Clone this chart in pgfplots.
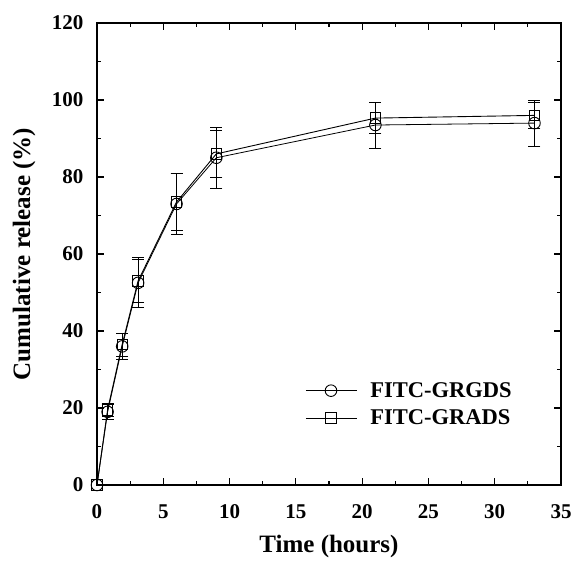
\documentclass[border=0pt]{standalone}
\usepackage{fontspec}
\setmainfont{Liberation Serif}
\usepackage{pgfplots}
\pgfplotsset{compat=1.18}
\begin{document}
\begin{tikzpicture}
\begin{axis}[
  scale only axis,
  width=464pt, height=462pt,
  xmin=0, xmax=35, ymin=0, ymax=120,
  xtick={0,5,...,35}, ytick={0,20,...,120},
  minor x tick num=1, minor y tick num=1,
  tick align=inside,
  major tick length=7pt, minor tick length=4pt,
  every tick/.style={black, line width=1.1pt},
  axis line style={line width=2.4pt},
  /pgf/number format/assume math mode=true,
  tick label style={font=\fontsize{21}{25}\selectfont\bfseries},
  xticklabel style={yshift=-16pt},
  yticklabel style={xshift=-10pt},
  label style={font=\fontsize{25}{30}\selectfont\bfseries},
  xlabel={Time (hours)},
  ylabel={Cumulative release (\%)},
  xlabel style={at={(axis description cs:0.5,-0.134)}, anchor=center},
  ylabel style={at={(axis description cs:-0.157,0.5)}, anchor=center},
  legend style={draw=none, fill=none, font=\fontsize{22.5}{26}\selectfont\bfseries,
    at={(axis description cs:0.449,0.231)}, anchor=north west, row sep=7pt,
    legend cell align=left, inner xsep=0pt},
  legend image code/.code={
    \draw[mark repeat=2,mark phase=2,#1] plot coordinates {(0pt,0pt) (25pt,0pt) (51pt,0pt)};
    \path (62pt,0pt);
  },
]
\addplot[black, line width=0.8pt, mark=o, mark size=5.8pt,
  mark options={solid, line width=0.9pt, fill=none},
  error bars/.cd, y dir=both, y explicit,
  error bar style={line width=0.8pt},
  error mark options={rotate=90, mark size=6pt, line width=0.8pt}]
  coordinates {
  (0,0) +- (0,0)
  (0.8,19.0) +- (0,2)
  (1.9,36) +- (0,3.5)
  (3.1,52.5) +- (0,6.5)
  (6,73) +- (0,8)
  (9,85) +- (0,8)
  (21,93.5) +- (0,6)
  (33,94) +- (0,6)
};
\addlegendentry{FITC-GRGDS}
\addplot[black, line width=0.9pt, mark=square, mark size=5.2pt,
  mark options={solid, line width=0.9pt, fill=none},
  error bars/.cd, y dir=both, y explicit,
  error bar style={line width=0.8pt},
  error mark options={rotate=90, mark size=6pt, line width=0.8pt}]
  coordinates {
  (0,0) +- (0,0)
  (0.8,19.5) +- (0,1.8)
  (1.9,36.5) +- (0,3)
  (3.1,53) +- (0,5.5)
  (6,73.5) +- (0,7.5)
  (9,86) +- (0,6)
  (21,95.3) +- (0,4)
  (33,96) +- (0,3.5)
};
\addlegendentry{FITC-GRADS}
\end{axis}
\pgfresetboundingbox
\path (current axis.south west) ++(-97pt,-80pt) coordinate (bl);
\path (current axis.north east) ++(15pt,23pt) coordinate (tr);
\path (bl) rectangle (tr);
\end{tikzpicture}
\end{document}
